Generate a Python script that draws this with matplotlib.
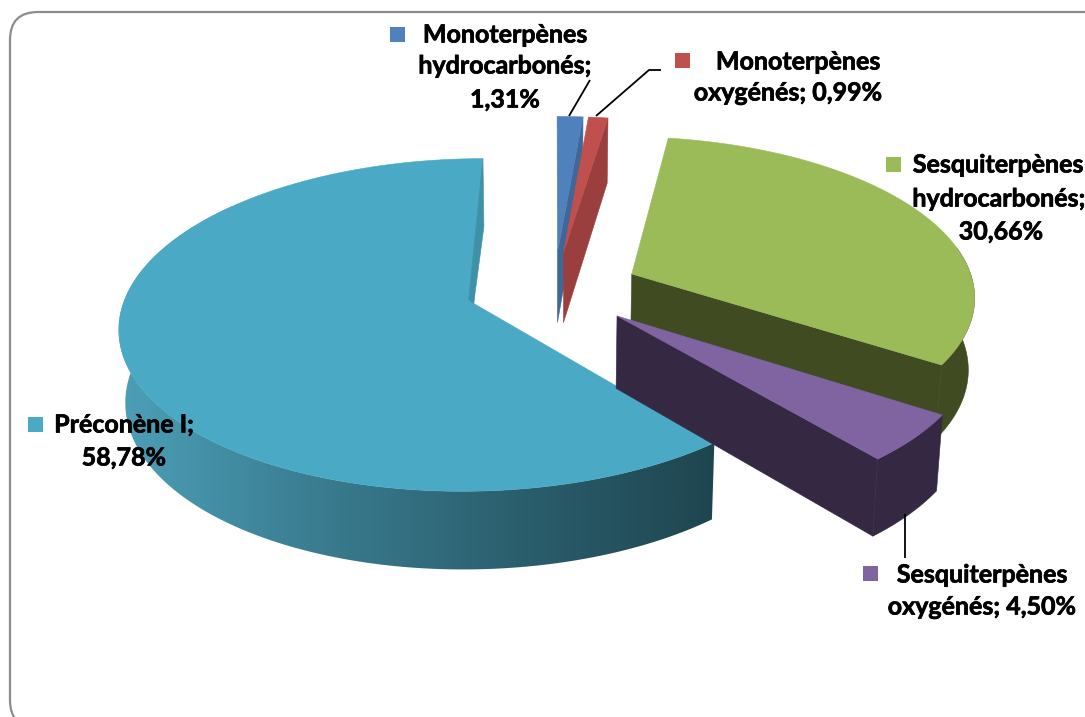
import numpy as np
import matplotlib
matplotlib.use("Agg")
import matplotlib.pyplot as plt
import matplotlib.patheffects as pe
from matplotlib.patches import Polygon, FancyBboxPatch, Rectangle
from matplotlib.colors import LinearSegmentedColormap

CATEGORIES = ["Monoterpènes hydrocarbonés", "Monoterpènes oxygénés",
              "Sesquiterpènes hydrocarbonés", "Sesquiterpènes oxygénés", "Préconène I"]
VALUES = [1.31, 0.99, 30.66, 4.50, 58.78]
FACE = ["#4F81BD", "#C0504D", "#9BBB59", "#8064A2", "#4AA9C4"]
WALL = ["#3F6797", "#9A3F3D", "#404B21", "#352843", "#1F4650"]
EXPLODE = [0.24, 0.24, 0.245, 0.235, 0.24]
RADIUS = [1.0, 1.0, 0.975, 0.99, 0.985]
LABELS = [
    [("Monoterpènes", 505, 35), ("hydrocarbonés;", 505, 66), ("1,31%", 505, 100)],
    [("Monoterpènes", 798, 62), ("oxygénés; 0,99%", 788, 93)],
    [("Sesquiterpènes", 998, 165), ("hydrocarbonés;", 999, 199), ("30,66%", 1001, 232)],
    [("Sesquiterpènes", 982, 575), ("oxygénés; 4,50%", 982, 607)],
    [("Préconène I;", 124, 425), ("58,78%", 124, 458)],
]
KEYS = [(397, 34), (682, 60), (893, 164), (870, 573), (35, 424)]
LEADERS = [[(590, 80), (569, 116)], [(661, 70), (649, 70), (596, 116)], [(905, 514), (905, 558)]]

START = 0.0
XC, YC, R, S, A, D = 554.0, 290.0, 352.0, 162.5, 0.13, 71.5

cum = START + np.concatenate([[0], np.cumsum(VALUES)]) / np.sum(VALUES) * 360


def project(U, V, bottom=False):
    w = 1 + A * V
    x = XC + R * U / w
    y = YC - S * V / w
    if bottom:
        x = XC + (x - XC) * 0.985
        y = y + D / (1 + 0.08 * V)
    return x, y


def pts(i, thetas, bottom=False):
    m = np.radians((cum[i] + cum[i + 1]) / 2)
    t = np.radians(np.asarray(thetas, float))
    r = RADIUS[i]
    return project(EXPLODE[i] * np.sin(m) + r * np.sin(t), EXPLODE[i] * np.cos(m) + r * np.cos(t), bottom)


def apex(i, bottom=False):
    m = np.radians((cum[i] + cum[i + 1]) / 2)
    return project(EXPLODE[i] * np.sin(m), EXPLODE[i] * np.cos(m), bottom)


fig = plt.figure(figsize=(10.85, 7.17), dpi=100)
ax = fig.add_axes([0, 0, 1, 1])
ax.set_xlim(0, 1085)
ax.set_ylim(717, 0)
ax.axis("off")

ax.add_patch(FancyBboxPatch((38, 40), 1100, 660, boxstyle="round,pad=28,rounding_size=28",
                            fc="white", ec="#8C8C8C", lw=1.6, zorder=0))


def poly(xy, fc, z):
    p = Polygon(xy, closed=True, fc=fc, ec=fc, lw=0.4, zorder=z, joinstyle="round")
    ax.add_patch(p)
    return p


teal_cmap = LinearSegmentedColormap.from_list("teal", ["#4C9FB8", "#3A7C90", "#2B5F6E", WALL[4]])

for z, i in enumerate([4, 0, 1, 2, 3]):
    base = 2 + z * 3
    t0, t1 = cum[i], cum[i + 1]
    # outer rim wall
    if i in (2, 3, 4):
        a = max(t0, 80.0)
        b = min(t1, 310.0)
        ths = np.linspace(a, b, 200)
        tx, ty = pts(i, ths)
        bx, by = pts(i, ths, True)
        verts = list(zip(tx, ty)) + list(zip(bx[::-1], by[::-1]))
        if i == 4:
            p = poly(verts, "none", base)
            p.set_edgecolor("none")
            grad = np.linspace(0, 1, 400).reshape(1, -1)
            im = ax.imshow(grad, cmap=teal_cmap, extent=(tx.min(), tx.max(), 600, 200),
                           aspect="auto", zorder=base, interpolation="bilinear")
            im.set_clip_path(p)
            ax.set_xlim(0, 1085)
            ax.set_ylim(717, 0)
        else:
            poly(verts, WALL[i], base)
    # end radial wall
    if i != 4:
        rx, ry = pts(i, [t1])
        rbx, rby = pts(i, [t1], True)
        ax_, ay_ = apex(i)
        bx_, by_ = apex(i, True)
        poly([(rx[0], ry[0]), (rbx[0], rby[0]), (bx_, by_), (ax_, ay_)], WALL[i], base + 1)
    # top face
    tx, ty = pts(i, np.linspace(t0, t1, max(3, int(t1 - t0) * 2)))
    ax_, ay_ = apex(i)
    poly([(ax_, ay_)] + list(zip(tx, ty)), FACE[i], base + 2)
    if i == 4:
        rx, ry = pts(i, [t1])
        poly([(rx[0], ry[0]), (rx[0] + 1, ry[0] + 68), (ax_, ay_), (ax_ - 5, ay_ - 4)], "#3F91A8", base + 2.5)

for line in LEADERS:
    xs, ys = zip(*line)
    ax.plot(xs, ys, color="black", lw=1.3, zorder=30, solid_capstyle="butt")

stroke = [pe.withStroke(linewidth=0.5, foreground="black")]
for (kx, ky), col, lines in zip(KEYS, FACE, LABELS):
    ax.add_patch(Rectangle((kx - 7.5, ky - 7.5), 15, 15, fc=col, ec="none", zorder=31))
    for txt, x, y in lines:
        ax.text(x, y, txt, ha="center", va="center", fontsize=18, fontweight="bold",
                family="Lato", color="black", zorder=32, clip_on=False, path_effects=stroke)

fig.savefig("out.png", dpi=100)
